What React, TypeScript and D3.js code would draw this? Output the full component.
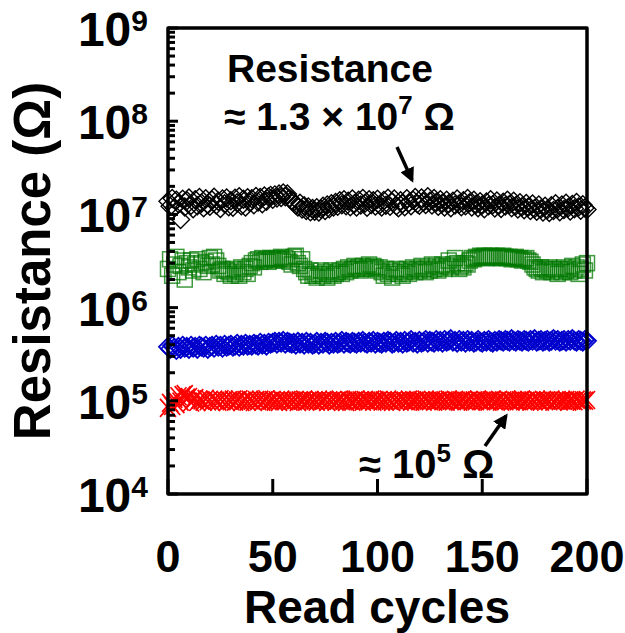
import React from "react";
import * as d3 from "d3";

// Read cycles 0..200 (one reading per cycle)
const blackR_1e7 = [
  1.38, 1.22, 1.48, 1.18, 1.42, 1.30, 0.88, 1.45, 1.20, 1.40,
  1.50, 1.25, 1.15, 1.44, 1.24, 1.52, 1.32, 1.18, 1.47, 1.28,
  1.22, 1.43, 1.53, 1.26, 1.38, 1.16, 1.46, 1.30, 1.50, 1.21,
  1.40, 1.19, 1.49, 1.33, 1.55, 1.24, 1.45, 1.20, 1.51, 1.34,
  1.47, 1.27, 1.56, 1.36, 1.52, 1.30, 1.58, 1.38, 1.54, 1.60,
  1.45, 1.62, 1.50, 1.66, 1.52, 1.70, 1.55, 1.66, 1.48, 1.42,
  1.36, 1.26, 1.20, 1.32, 1.14, 1.24, 1.10, 1.20, 1.07, 1.16,
  1.08, 1.18, 1.06, 1.14, 1.22, 1.10, 1.26, 1.15, 1.30, 1.20,
  1.34, 1.22, 1.40, 1.27, 1.44, 1.24, 1.38, 1.21, 1.46, 1.30,
  1.20, 1.42, 1.26, 1.48, 1.32, 1.19, 1.44, 1.28, 1.40, 1.23,
  1.45, 1.27, 1.20, 1.41, 1.25, 1.49, 1.22, 1.36, 1.46, 1.24,
  1.18, 1.40, 1.30, 1.21, 1.47, 1.33, 1.24, 1.42, 1.52, 1.30,
  1.25, 1.50, 1.36, 1.28, 1.55, 1.38, 1.26, 1.48, 1.34, 1.22,
  1.44, 1.32, 1.20, 1.42, 1.30, 1.18, 1.38, 1.26, 1.46, 1.29,
  1.21, 1.40, 1.24, 1.48, 1.33, 1.20, 1.42, 1.28, 1.18, 1.37,
  1.26, 1.15, 1.36, 1.24, 1.44, 1.27, 1.17, 1.39, 1.25, 1.16,
  1.35, 1.23, 1.42, 1.28, 1.18, 1.38, 1.24, 1.14, 1.33, 1.21,
  1.12, 1.31, 1.20, 1.10, 1.29, 1.16, 1.08, 1.26, 1.14, 1.06,
  1.22, 1.12, 1.05, 1.24, 1.10, 1.30, 1.16, 1.07, 1.26, 1.13,
  1.32, 1.18, 1.09, 1.28, 1.15, 1.34, 1.20, 1.11, 1.27, 1.17,
  1.13,
];

const greenR_1e6 = [
  2.6, 3.3, 2.2, 2.9, 3.5, 2.4, 2.8, 3.2, 2.0, 3.0,
  2.7, 3.2, 2.5, 2.9, 3.3, 2.6, 3.0, 2.4, 3.1, 2.8,
  3.4, 2.9, 3.5, 3.2, 2.8, 2.5, 2.6, 2.3, 2.5, 2.4,
  2.2, 2.6, 2.3, 2.5, 2.2, 2.7, 2.4, 2.6, 2.3, 2.8,
  3.0, 2.7, 3.2, 3.3, 3.1, 3.4, 3.2, 3.3, 3.1, 3.4,
  3.3, 3.2, 3.4, 3.3, 3.5, 3.2, 3.4, 3.3, 3.1, 2.9,
  3.5, 3.6, 3.0, 2.8, 3.3, 2.6, 2.4, 2.2, 2.5, 2.2,
  2.3, 2.1, 2.3, 2.5, 2.2, 2.4, 2.1, 2.3, 2.5, 2.2,
  2.3, 2.4, 2.5, 2.3, 2.6, 2.4, 2.7, 2.5, 2.6, 2.8,
  2.6, 2.7, 2.5, 2.8, 2.6, 2.7, 2.9, 2.6, 2.8, 2.7,
  2.5, 2.7, 2.4, 2.2, 2.6, 2.3, 2.5, 2.1, 2.4, 2.6,
  2.3, 2.5, 2.2, 2.4, 2.6, 2.3, 2.5, 2.7, 2.4, 2.6,
  2.5, 2.8, 2.6, 2.4, 2.7, 2.5, 2.9, 2.6, 2.8, 2.5,
  2.7, 2.9, 2.6, 2.8, 3.2, 2.7, 2.9, 3.4, 3.0, 2.6,
  2.8, 2.7, 3.0, 2.9, 3.2, 3.4, 3.3, 3.5, 3.4, 3.6,
  3.5, 3.6, 3.4, 3.5, 3.6, 3.5, 3.4, 3.6, 3.5, 3.4,
  3.6, 3.5, 3.4, 3.5, 3.3, 3.4, 3.5, 3.3, 3.4, 3.2,
  3.3, 3.4, 3.2, 3.1, 2.9, 2.7, 2.6, 2.5, 2.7, 2.4,
  2.6, 2.5, 2.7, 2.4, 2.6, 2.5, 2.3, 2.6, 2.4, 2.7,
  2.5, 2.6, 2.4, 2.8, 2.5, 2.7, 2.3, 2.6, 2.9, 2.5,
  3.0,
];

const blueR_1e5 = [
  3.8, 3.6, 3.9, 3.7, 3.5, 3.8, 3.6, 3.9, 3.7, 3.8,
  3.6, 3.9, 3.7, 3.8, 3.6, 3.9, 3.8, 3.7, 3.9, 3.6,
  3.8, 3.9, 3.7, 4.0, 3.8, 3.9, 3.7, 4.0, 3.8, 3.9,
  4.0, 3.8, 3.9, 4.1, 3.8, 4.0, 3.9, 4.1, 3.9, 4.0,
  3.9, 4.1, 4.0, 3.9, 4.2, 4.0, 4.1, 3.9, 4.2, 4.1,
  4.2, 4.3, 4.1, 4.3, 4.2, 4.4, 4.1, 4.3, 4.2, 4.1,
  4.2, 4.0, 4.3, 4.1, 4.2, 4.0, 4.3, 4.1, 4.2, 4.0,
  4.1, 4.3, 4.0, 4.2, 4.1, 4.3, 4.2, 4.0, 4.2, 4.1,
  4.3, 4.1, 4.2, 4.4, 4.1, 4.3, 4.2, 4.1, 4.3, 4.2,
  4.1, 4.3, 4.2, 4.4, 4.2, 4.1, 4.3, 4.2, 4.4, 4.1,
  4.3, 4.2, 4.1, 4.3, 4.2, 4.4, 4.3, 4.1, 4.2, 4.4,
  4.2, 4.3, 4.1, 4.4, 4.2, 4.3, 4.5, 4.2, 4.3, 4.1,
  4.4, 4.2, 4.3, 4.5, 4.2, 4.4, 4.3, 4.2, 4.5, 4.3,
  4.4, 4.2, 4.5, 4.3, 4.4, 4.6, 4.3, 4.4, 4.2, 4.5,
  4.3, 4.4, 4.2, 4.5, 4.3, 4.4, 4.2, 4.3, 4.5, 4.3,
  4.2, 4.4, 4.3, 4.5, 4.3, 4.2, 4.4, 4.3, 4.5, 4.4,
  4.3, 4.5, 4.4, 4.3, 4.6, 4.4, 4.3, 4.5, 4.4, 4.3,
  4.5, 4.4, 4.3, 4.5, 4.4, 4.6, 4.3, 4.4, 4.5, 4.3,
  4.4, 4.5, 4.3, 4.4, 4.6, 4.4, 4.5, 4.3, 4.4, 4.5,
  4.3, 4.5, 4.4, 4.6, 4.4, 4.3, 4.5, 4.4, 4.3, 4.5,
  4.4,
];

const redR_1e5 = [
  0.84, 0.95, 0.88, 1.05, 0.92, 1.12, 0.98, 1.15, 1.18, 1.08,
  1.10, 0.96, 1.04, 1.07, 0.97, 1.03, 1.01, 0.98, 1.05, 0.99,
  1.02, 0.97, 1.03, 1.00, 0.98, 1.04, 0.99, 1.02, 0.97, 1.01,
  0.99, 1.03, 0.98, 1.01, 1.04, 0.97, 1.00, 1.02, 0.98, 1.03,
  1.00, 0.97, 1.02, 0.99, 1.03, 0.98, 1.01, 1.04, 0.99, 1.00,
  1.02, 0.98, 1.01, 0.97, 1.03, 1.00, 0.99, 1.02, 0.98, 1.01,
  0.99, 1.02, 0.97, 1.01, 1.00, 1.03, 0.98, 1.00, 1.02, 0.99,
  1.01, 0.98, 1.03, 0.99, 1.00, 1.02, 0.97, 1.01, 0.99, 1.02,
  0.98, 1.01, 1.03, 0.99, 1.00, 0.97, 1.02, 1.00, 0.98, 1.01,
  1.03, 0.99, 1.01, 0.98, 1.02, 1.00, 0.99, 1.03, 0.98, 1.01,
  1.00, 1.02, 0.98, 1.01, 0.99, 1.03, 1.00, 0.97, 1.02, 0.99,
  1.01, 0.98, 1.02, 1.00, 0.99, 1.03, 0.98, 1.01, 1.00, 1.02,
  0.99, 1.01, 0.98, 1.03, 1.00, 0.99, 1.02, 0.98, 1.01, 1.00,
  1.02, 0.99, 1.01, 0.98, 1.03, 1.00, 0.99, 1.02, 1.00, 0.98,
  1.01, 1.03, 0.99, 1.00, 1.02, 0.98, 1.01, 0.99, 1.03, 1.00,
  0.99, 1.02, 1.00, 0.98, 1.01, 1.03, 0.99, 1.00, 1.02, 0.98,
  1.01, 0.99, 1.03, 1.00, 0.98, 1.02, 1.00, 0.99, 1.01, 1.03,
  0.99, 1.00, 1.02, 0.98, 1.01, 0.99, 1.03, 1.00, 0.98, 1.02,
  1.00, 1.01, 0.99, 1.03, 0.98, 1.00, 1.02, 0.99, 1.01, 1.00,
  1.02, 0.98, 1.01, 1.00, 0.99, 1.03, 1.00, 0.98, 1.01, 1.00,
  1.02,
];

const xTicks = [0, 50, 100, 150, 200];
const yDecades = [4, 5, 6, 7, 8, 9];

const W = 625;
const H = 633;
const M = { left: 168, right: 587, top: 28, bottom: 494 };
const FONT = "'Liberation Sans', Arial, sans-serif";

export default function App() {
  const x = d3.scaleLinear().domain([0, 200]).range([M.left, M.right]);
  const y = d3.scaleLog().domain([1e4, 1e9]).range([M.bottom, M.top]);

  const black = blackR_1e7.map((v, i) => ({ c: i, r: v * 1e7 }));
  const green = greenR_1e6.map((v, i) => ({ c: i, r: v * 1e6 }));
  const blue = blueR_1e5.map((v, i) => ({ c: i, r: v * 1e5 }));
  const red = redR_1e5.map((v, i) => ({ c: i, r: v * 1e5 }));

  const diamond = (cx: number, cy: number, r: number) =>
    `M${cx},${cy - r}L${cx + r},${cy}L${cx},${cy + r}L${cx - r},${cy}Z`;

  const minorTicks: number[] = [];
  for (let d = 4; d < 9; d++) {
    for (let k = 2; k <= 9; k++) minorTicks.push(k * Math.pow(10, d));
  }

  return (
    <svg
      width={W}
      height={H}
      style={{ position: "absolute", left: 0, top: 0, background: "#fff" }}
      fontFamily={FONT}
    >
      <defs>
        <marker
          id="ah"
          viewBox="0 0 10 10"
          refX="8"
          refY="5"
          markerWidth="4.2"
          markerHeight="4.2"
          orient="auto"
          markerUnits="strokeWidth"
        >
          <path d="M0,0L10,5L0,10Z" fill="#000" />
        </marker>
      </defs>
      <rect x={0} y={0} width={W} height={H} fill="#fff" />

      {/* black diamonds */}
      <g fill="none" stroke="#000" strokeWidth={1.4}>
        {black.map((d, i) => (
          <path key={i} d={diamond(x(d.c), y(d.r), 9)} />
        ))}
      </g>
      {/* green squares */}
      <g fill="none" stroke="#007800" strokeOpacity={0.75} strokeWidth={1.5}>
        {green.map((d, i) => (
          <rect key={i} x={x(d.c) - 7.5} y={y(d.r) - 7.5} width={15} height={15} />
        ))}
      </g>
      {/* blue diamonds */}
      <g fill="none" stroke="#0000cc" strokeWidth={1.8}>
        {blue.map((d, i) => (
          <path key={i} d={diamond(x(d.c), y(d.r), 9)} />
        ))}
      </g>
      {/* red crosses */}
      <g stroke="#ff0000" strokeWidth={1.7}>
        {red.map((d, i) => {
          const cx = x(d.c);
          const cy = y(d.r);
          return (
            <path
              key={i}
              d={`M${cx - 8},${cy - 9}L${cx + 8},${cy + 9}M${cx - 8},${cy + 9}L${cx + 8},${cy - 9}`}
            />
          );
        })}
      </g>

      {/* axis ticks */}
      <g stroke="#000" strokeWidth={3}>
        {yDecades.map((d) => (
          <line key={"M" + d} x1={M.left} x2={M.left + 10} y1={y(Math.pow(10, d))} y2={y(Math.pow(10, d))} />
        ))}
        {minorTicks.map((v) => (
          <line key={"m" + v} x1={M.left} x2={M.left + 7} y1={y(v)} y2={y(v)} />
        ))}
        {xTicks.map((t) => (
          <line key={"x" + t} x1={x(t)} x2={x(t)} y1={M.bottom} y2={M.bottom - 15} />
        ))}
      </g>
      {/* frame */}
      <rect
        x={M.left}
        y={M.top}
        width={M.right - M.left}
        height={M.bottom - M.top}
        fill="none"
        stroke="#000"
        strokeWidth={3.5}
        strokeLinejoin="round"
      />

      {/* y tick labels */}
      <g fontWeight="bold" fill="#000">
        {yDecades.map((d) => (
          <text key={d} x={148} y={y(Math.pow(10, d)) + 18} textAnchor="end" fontSize={48}>
            10
            <tspan fontSize={30} dy={-15}>{d}</tspan>
          </text>
        ))}
      </g>
      {/* x tick labels */}
      <g fontWeight="bold" fill="#000">
        {xTicks.map((t) => (
          <text key={t} x={x(t)} y={572} textAnchor="middle" fontSize={45}>
            {t}
          </text>
        ))}
      </g>
      {/* axis titles */}
      <text x={377} y={623} textAnchor="middle" fontSize={46} fontWeight="bold">
        Read cycles
      </text>
      <text
        transform={`translate(50,${(M.top + M.bottom) / 2}) rotate(-90)`}
        textAnchor="middle"
        fontSize={51}
        fontWeight="bold"
      >
        Resistance (Ω)
      </text>

      {/* annotations */}
      <text x={227} y={82} fontSize={39} fontWeight="bold">
        Resistance
      </text>
      <text x={224} y={130} fontSize={39} fontWeight="bold">
        ≈ 1.3 × 10
        <tspan fontSize={26} dy={-16}>7</tspan>
        <tspan dy={16}> Ω</tspan>
      </text>
      <line x1={397} y1={147} x2={412} y2={180} stroke="#000" strokeWidth={3.5} markerEnd="url(#ah)" />

      <text x={359} y={478} fontSize={40} fontWeight="bold">
        ≈ 10
        <tspan fontSize={26} dy={-16}>5</tspan>
        <tspan dy={16}> Ω</tspan>
      </text>
      <line x1={485} y1={446} x2={506} y2={416} stroke="#000" strokeWidth={3.5} markerEnd="url(#ah)" />
    </svg>
  );
}
